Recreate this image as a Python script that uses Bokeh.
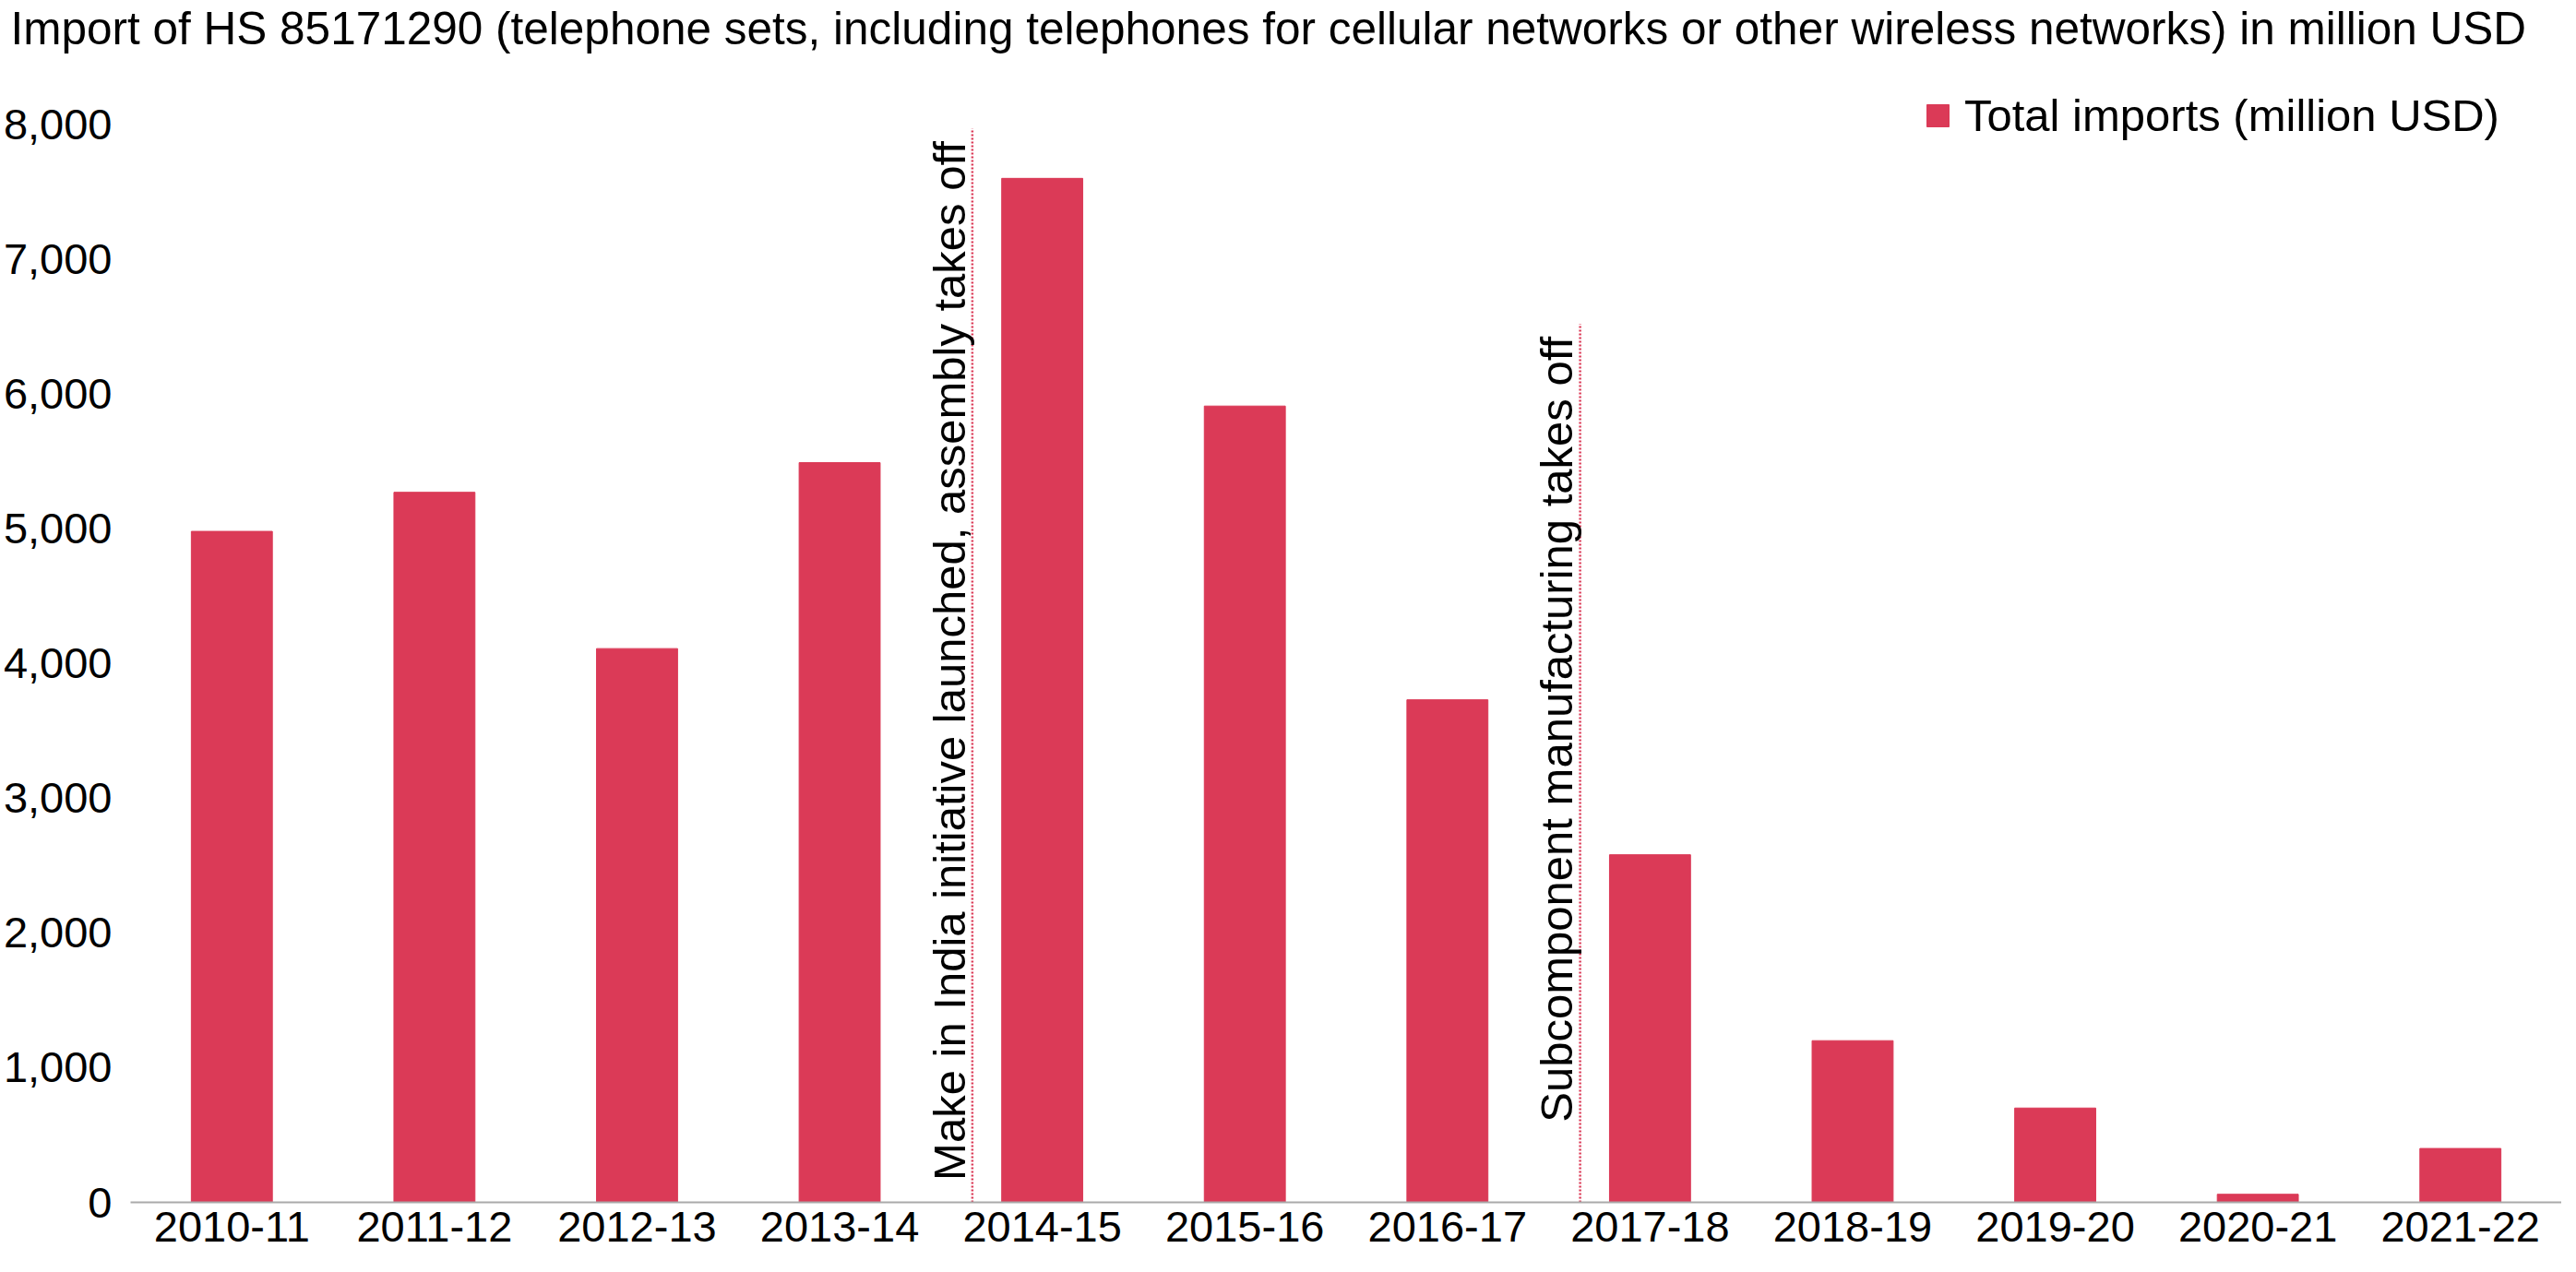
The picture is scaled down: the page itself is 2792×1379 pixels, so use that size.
from bokeh.plotting import figure
from bokeh.models import ColumnDataSource, FixedTicker, NumeralTickFormatter, Legend, LegendItem
from bokeh.transform import dodge
from bokeh.core.properties import value
from bokeh.embed import file_html
from bokeh.resources import INLINE

years = ["2010-11", "2011-12", "2012-13", "2013-14", "2014-15", "2015-16",
         "2016-17", "2017-18", "2018-19", "2019-20", "2020-21", "2021-22"]
imports = [4980, 5270, 4110, 5490, 7600, 5910, 3730, 2580, 1200, 700, 60, 400]
y_ticks = [0, 1000, 2000, 3000, 4000, 5000, 6000, 7000, 8000]

annot_year = ["2014-15", "2017-18"]
annot_top = [7970, 6520]
annot_text = ["Make in India initiative launched, assembly takes off",
              "Subcomponent manufacturing takes off"]

TITLE = ("Import of HS 85171290 (telephone sets, including telephones for cellular "
         "networks or other wireless networks) in million USD")
FONT = "Liberation Sans"
BAR = "#DB3A57"

p = figure(x_range=years, y_range=(0, 8530), width=2776, height=1363,
           output_backend="svg", toolbar_location=None,
           min_border_left=125, min_border_right=0, min_border_bottom=60,
           min_border_top=0, title=TITLE)

p.title.text_font = FONT
p.title.text_font_size = "49.5px"
p.title.text_font_style = "normal"
p.title.text_color = "black"
p.title.align = "left"
p.title.offset = -130
p.title.standoff = 0

src = ColumnDataSource(dict(x=years, y=imports))
r = p.vbar(x="x", top="y", width=0.4, source=src, color=BAR)

asrc = ColumnDataSource(dict(x=annot_year, top=annot_top, ty=[t - 95 for t in annot_top],
                             text=annot_text, zero=[0, 0]))
p.segment(x0=dodge("x", -0.345, range=p.x_range), x1=dodge("x", -0.345, range=p.x_range),
          y0="zero", y1="top", source=asrc, line_color=BAR, line_width=2.5, line_dash="2 2")
p.text(x=dodge("x", -0.46, range=p.x_range), y="ty", text="text", source=asrc,
       angle=1.5707963, text_align="right", text_baseline="middle",
       text_font=value(FONT), text_font_size="49px", text_color="black")

legend = Legend(items=[LegendItem(label="Total imports (million USD)", renderers=[r])],
                location="top_right", border_line_color=None, background_fill_alpha=0,
                label_text_font=FONT, label_text_font_size="49px", label_text_color="black",
                glyph_width=30, glyph_height=30, padding=0, margin=0, label_standoff=14,
                spacing=0)
p.add_layout(legend)
legend.location = (1944, 1150)

p.xgrid.grid_line_color = None
p.ygrid.grid_line_color = None
p.outline_line_color = None

p.yaxis.ticker = FixedTicker(ticks=y_ticks)
p.yaxis.formatter = NumeralTickFormatter(format="0,0")
p.yaxis.axis_line_color = None
p.yaxis.major_tick_line_color = None
p.yaxis.minor_tick_line_color = None
p.yaxis.major_label_text_font = FONT
p.yaxis.major_label_text_font_size = "47px"
p.yaxis.major_label_text_color = "black"
p.yaxis.major_label_standoff = 14

p.xaxis.axis_line_color = "#AAAAAA"
p.xaxis.axis_line_width = 2
p.xaxis.major_tick_line_color = None
p.xaxis.minor_tick_line_color = None
p.xaxis.major_label_text_font = FONT
p.xaxis.major_label_text_font_size = "47px"
p.xaxis.major_label_text_color = "black"
p.xaxis.major_label_standoff = 4

p.x_range.range_padding = 0

open("out.html", "w").write(file_html(p, INLINE))
